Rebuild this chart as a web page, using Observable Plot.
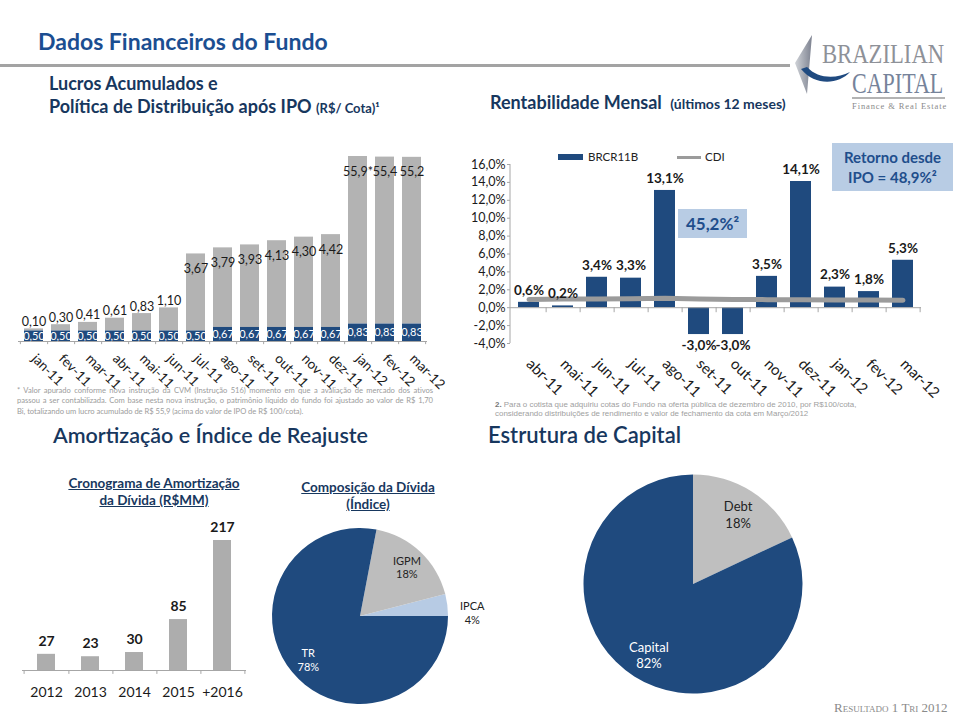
<!DOCTYPE html>
<html><head><meta charset="utf-8">
<script src="https://cdn.jsdelivr.net/npm/d3@7"></script>
<script src="https://cdn.jsdelivr.net/npm/@observablehq/plot@0.6"></script>
<style>
body{margin:0;background:#fff;font-family:Lato,sans-serif;}
#page{position:relative;width:960px;height:720px;overflow:hidden;background:#fff;}
.t{position:absolute;white-space:nowrap;line-height:1.2;}
.abs{position:absolute;}
.fn{position:absolute;font-size:7.6px;letter-spacing:-0.03px;line-height:10.5px;color:#9c9c9c;}
.fn .j{text-align:justify;text-align-last:justify;}
.ct{position:absolute;text-align:center;font-weight:700;text-decoration:underline;font-size:13.5px;line-height:17.5px;color:#17375e;}
</style></head>
<body><div id="page">
<div class="t" style="left:38px;top:28px;font-size:23px;font-weight:700;color:#1b4e91">Dados Financeiros do Fundo</div>
<div class="abs" style="left:0;top:64px;width:790px;height:3px;background:#a3a3a3"></div>
<div class="t" style="left:49px;top:71.5px;font-size:18px;line-height:23px;font-weight:700;color:#17375e">Lucros Acumulados e<br>Política de Distribuição após IPO <span style="font-size:13px">(R$/ Cota)¹</span></div>
<div class="t" style="left:490px;top:92px;font-size:18px;font-weight:700;color:#17375e">Rentabilidade Mensal <span style="font-size:14px;margin-left:4px">(últimos 12 meses)</span></div>

<svg class="abs" style="left:780px;top:28px" width="180" height="90" viewBox="780 28 180 90">
<defs><linearGradient id="sg" x1="0" x2="1"><stop offset="0" stop-color="#d0d3d8"/><stop offset="1" stop-color="#7d8290"/></linearGradient></defs>
<path d="M812,35 L795,63 L807,94 L809,70 Z" fill="url(#sg)"/>
<path d="M801,69 C815,86 838,85 850,72 C836,79 818,79 807,67 Z" fill="#1f4a80"/>
<text transform="translate(822,63) scale(0.81,1)" x="0" y="0" font-family="Liberation Serif" font-size="28" fill="#8e9198">BRAZILIAN</text>
<text transform="translate(852,93) scale(0.76,1)" x="0" y="0" font-family="Liberation Serif" font-size="29" fill="#76839a">CAPITAL</text>
<line x1="852" x2="945" y1="98" y2="98" stroke="#9a9a9a" stroke-width="1.5"/>
<text x="852" y="109" font-family="Liberation Serif" font-size="8.5" letter-spacing="0.9" fill="#8a8a8a">Finance &amp; Real Estate</text>
</svg>

<div id="c1" class="abs" style="left:0;top:150px"></div>
<div id="c2" class="abs" style="left:470px;top:140px"></div>

<div class="abs" style="left:558px;top:154px;width:25px;height:6px;background:#1f4a7e"></div>
<div class="t" style="left:588px;top:150px;font-size:11.5px;color:#222">BRCR11B</div>
<div class="abs" style="left:677px;top:156px;width:24px;height:2.5px;background:#9b9b9b"></div>
<div class="t" style="left:705px;top:150px;font-size:11.5px;color:#222">CDI</div>

<div class="abs" style="left:678px;top:209px;width:69px;height:29px;background:#b8cce4;color:#1f4e8c;font-weight:700;font-size:17px;line-height:29px;text-align:center">45,2%²</div>
<div class="abs" style="left:832px;top:143px;width:121px;height:48px;background:#b8cce4;color:#1f4e8c;font-weight:700;font-size:15px;line-height:20px;text-align:center;padding-top:4px;box-sizing:border-box">Retorno desde<br>IPO = 48,9%²</div>

<div class="fn" style="left:17px;top:384.5px;width:416px">
<div class="j">* Valor apurado conforme nova instrução da CVM (Instrução 516) momento em que a avaliação de mercado dos ativos</div>
<div class="j">passou a ser contabilizada. Com base nesta nova instrução, o patrimônio líquido do fundo foi ajustado ao valor de R$ 1,70</div>
<div>Bi, totalizando um lucro acumulado de R$ 55,9 (acima do valor de IPO de R$ 100/cota).</div>
</div>
<div class="t" style="left:495px;top:399.5px;font-family:'Liberation Sans',Arial,sans-serif;font-size:7.95px;line-height:9.4px;color:#a0a0a0"><b style="color:#777">2.</b> Para o cotista que adquiriu cotas do Fundo na oferta pública de dezembro de 2010, por R$100/cota,<br>considerando distribuições de rendimento e valor de fechamento da cota em Março/2012</div>

<div class="t" style="left:53px;top:422.5px;font-size:21.5px;font-weight:600;color:#17375e">Amortização e Índice de Reajuste</div>
<div class="t" style="left:488px;top:421.5px;font-size:22px;font-weight:600;color:#17375e">Estrutura de Capital</div>

<div class="ct" style="left:54px;top:474.5px;width:200px">Cronograma de Amortização<br>da Dívida (R$MM)</div>
<div class="ct" style="left:268px;top:478.5px;width:200px">Composição da Dívida<br>(Índice)</div>

<div id="c3" class="abs" style="left:0;top:515px"></div>
<div id="c4" class="abs" style="left:260px;top:520px"></div>
<div id="c5" class="abs" style="left:560px;top:470px"></div>

<div class="t" style="left:834px;top:700px;font-family:'Liberation Serif',serif;font-size:13px;font-variant:small-caps;color:#8a8a8a">Resultado 1 Tri 2012</div>
</div>
<script>
// ---------- data ----------
const meses = ["jan-11","fev-11","mar-11","abr-11","mai-11","jun-11","jul-11","ago-11","set-11","out-11","nov-11","dez-11","jan-12","fev-12","mar-12"];
const distribuicao = [0.50,0.50,0.50,0.50,0.50,0.50,0.50,0.67,0.67,0.67,0.67,0.67,0.83,0.83,0.83];
const lucroAcumulado = [0.10,0.30,0.41,0.61,0.83,1.10,3.67,3.79,3.93,4.13,4.30,4.42,55.9,55.4,55.2];
const lucroNota = ["","","","","","","","","","","","","*","",""];

const mesesRent = ["abr-11","mai-11","jun-11","jul-11","ago-11","set-11","out-11","nov-11","dez-11","jan-12","fev-12","mar-12"];
const brcr11b = [0.6,0.2,3.4,3.3,13.1,-3.0,-3.0,3.5,14.1,2.3,1.8,5.3];
const cdi = [0.92,0.97,0.98,1.00,1.05,0.98,0.93,0.90,0.88,0.87,0.85,0.84];
const rentTicks = [-4,-2,0,2,4,6,8,10,12,14,16];

const anos = ["2012","2013","2014","2015","+2016"];
const amortizacao = [27,23,30,85,217];

const indices = ["IPCA","IGPM","TR"];
const indicesPct = [4,18,78];

const estrutura = ["Debt","Capital"];
const estruturaPct = [18,82];

// ---------- helpers ----------
const loc = d3.formatLocale({decimal: ",", thousands: ".", grouping: [3], currency: ["R$", ""], minus: "-"});
const f1 = loc.format(".1f"), f2 = loc.format(".2f");
const azul = "#1f4a7e", cinza = "#b3b3b3", eixo = "#a6a6a6";
const baseStyle = {fontFamily: "Lato, sans-serif", fontSize: "14px", color: "#1a1a1a", background: "transparent", overflow: "visible"};

// ---------- chart 1: lucros acumulados (broken value axis above 6) ----------
const quebra = 6, fatorQuebra = 0.0554;
const brk = v => v <= quebra ? v : quebra + (v - quebra) * fatorQuebra;
const rows1 = meses.map((mes, i) => ({mes, dist: distribuicao[i], lucro: lucroAcumulado[i], total: distribuicao[i] + lucroAcumulado[i], nota: lucroNota[i]}));
const fmtLucro = d => (d.lucro >= 10 ? f1(d.lucro) : f2(d.lucro)) + d.nota;
const step1 = (470 - 18 - 43) / meses.length;
const c1 = Plot.plot({
  width: 470, height: 240, marginLeft: 18, marginRight: 43, marginTop: 0, marginBottom: 49,
  style: baseStyle,
  x: {domain: meses, paddingInner: 0.3, paddingOuter: 0.15, label: null},
  y: {domain: [0, brk(57)], range: [191, 5.7], axis: null},
  marks: [
    Plot.barY(rows1, {x: "mes", y1: d => brk(d.dist), y2: d => brk(d.total), fill: cinza}),
    Plot.barY(rows1, {x: "mes", y1: 0, y2: d => brk(d.dist), fill: azul}),
    Plot.ruleY([0], {stroke: eixo}),
    Plot.ruleX(meses, {x: d => d, y1: 0, y2: -0.15, dx: step1 / 2, stroke: eixo}),
    Plot.ruleX(meses.slice(0, 1), {x: d => d, y1: 0, y2: -0.15, dx: -step1 / 2, stroke: eixo}),
    Plot.text(rows1, {x: "mes", y: d => brk(d.dist) / 2, text: d => f2(d.dist), fill: "white", fontSize: 11}),
    Plot.text(rows1.filter(d => d.lucro < 2), {x: "mes", y: d => brk(d.total), dy: -7, text: fmtLucro, fontSize: 12.5}),
    Plot.text(rows1.filter(d => d.lucro >= 2), {x: "mes", y: d => brk(d.total), dy: 15, text: fmtLucro, fontSize: 12.5}),
    Plot.axisX({tickSize: 0, tickRotate: 45, tickPadding: 15, fontSize: 13.5, label: null})
  ]
});
document.getElementById("c1").append(c1);

// ---------- chart 2: rentabilidade mensal ----------
const rows2 = mesesRent.map((mes, i) => ({mes, ret: brcr11b[i], cdi: cdi[i]}));
const step2 = (490 - 40 - 39) / mesesRent.length;
const yAxisLine = (index, scales, values, dims) =>
  d3.create("svg:line")
    .attr("x1", dims.marginLeft).attr("x2", dims.marginLeft)
    .attr("y1", dims.marginTop).attr("y2", dims.height - dims.marginBottom)
    .attr("stroke", eixo).node();
const c2 = Plot.plot({
  width: 490, height: 250, marginLeft: 40, marginRight: 39, marginTop: 24, marginBottom: 47,
  style: baseStyle,
  x: {domain: mesesRent, paddingInner: 0.37, paddingOuter: 0.185, label: null},
  y: {domain: [-4, 16], label: null},
  marks: [
    Plot.barY(rows2, {x: "mes", y: "ret", fill: azul}),
    Plot.ruleY([0], {stroke: eixo}),
    Plot.ruleX(mesesRent, {x: d => d, y1: 0, y2: -0.56, dx: step2 / 2, stroke: eixo}),
    Plot.line(rows2, {x: "mes", y: "cdi", stroke: "#9b9b9b", strokeWidth: 5}),
    Plot.text(rows2.filter(d => d.ret >= 0), {x: "mes", y: "ret", dy: -12, text: d => f1(d.ret) + "%", fontWeight: "bold", fontSize: 13.5}),
    Plot.text(rows2.filter(d => d.ret < 0), {x: "mes", y: "ret", dy: 11, text: d => f1(d.ret) + "%", fontWeight: "bold", fontSize: 13.5}),
    Plot.axisY({ticks: rentTicks, tickFormat: d => f1(d) + "%", tickSize: 3, tickPadding: 2, fontSize: 12.5, label: null, stroke: eixo}),
    yAxisLine,
    Plot.axisX({tickSize: 0, tickRotate: 45, tickPadding: 18, fontSize: 15, label: null})
  ]
});
document.getElementById("c2").append(c2);

// ---------- chart 3: amortização ----------
const rows3 = anos.map((ano, i) => ({ano, v: amortizacao[i]}));
const step3 = (260 - 22 - 14) / anos.length;
const c3 = Plot.plot({
  width: 260, height: 195, marginLeft: 22, marginRight: 14, marginTop: 0, marginBottom: 40,
  style: baseStyle,
  x: {domain: anos, paddingInner: 0.6, paddingOuter: 0.3, label: null},
  y: {domain: [0, 217], range: [155, 25], axis: null},
  marks: [
    Plot.barY(rows3, {x: "ano", y: "v", fill: "#adadad"}),
    Plot.ruleY([0], {stroke: eixo}),
    Plot.ruleX(anos, {x: d => d, y1: 0, y2: -6.5, dx: step3 / 2, stroke: eixo}),
    Plot.ruleX(anos.slice(0, 1), {x: d => d, y1: 0, y2: -6.5, dx: -step3 / 2, stroke: eixo}),
    Plot.text(rows3, {x: "ano", y: "v", dy: -13, text: d => String(d.v), fontWeight: "bold", fontSize: 14}),
    Plot.axisX({tickSize: 0, tickPadding: 17, fontSize: 14, label: null})
  ]
});
document.getElementById("c3").append(c3);

// ---------- pies ----------
function piePlot({names, pcts, width, height, cx, cy, r, colors, startAngle, endAngle, labelR, fontSize}) {
  const arcs = d3.pie().sort(null).value(d => d.pct).startAngle(startAngle).endAngle(endAngle)(names.map((nome, i) => ({nome, pct: pcts[i]})));
  const arcPath = d3.arc().innerRadius(0).outerRadius(r);
  const inner = d3.arc().innerRadius(r * labelR).outerRadius(r * labelR);
  const outer = d3.arc().innerRadius(r * 1.28).outerRadius(r * 1.28);
  const slices = () => {
    const g = d3.create("svg:g").attr("transform", `translate(${cx},${cy})`);
    g.selectAll("path").data(arcs).join("path").attr("d", arcPath).attr("fill", d => colors[d.data.nome]);
    return g.node();
  };
  const lbl = a => a.data.nome + "\n" + a.data.pct + "%";
  const txtColor = a => colors[a.data.nome] === azul ? "white" : "#222";
  const big = arcs.filter(a => a.data.pct >= 10), small = arcs.filter(a => a.data.pct < 10);
  return Plot.plot({
    width, height, margin: 0, style: baseStyle,
    x: {type: "identity", axis: null}, y: {type: "identity", axis: null},
    marks: [
      slices,
      Plot.text(big, {x: a => cx + inner.centroid(a)[0], y: a => cy + inner.centroid(a)[1], text: lbl, fill: txtColor, fontSize, lineHeight: 1.25}),
      Plot.text(small, {x: a => cx + outer.centroid(a)[0], y: a => cy + outer.centroid(a)[1], dy: 10, text: lbl, fill: "#222", fontSize, lineHeight: 1.25})
    ]
  });
}
document.getElementById("c4").append(piePlot({
  names: indices, pcts: indicesPct, width: 260, height: 195, cx: 100, cy: 96, r: 88,
  colors: {TR: azul, IGPM: "#bdbdbd", IPCA: "#b7cbe4"},
  startAngle: Math.PI / 2, endAngle: Math.PI / 2 - 2 * Math.PI, labelR: 0.77, fontSize: 11
}));
document.getElementById("c5").append(piePlot({
  names: estrutura, pcts: estruturaPct, width: 300, height: 240, cx: 133, cy: 114, r: 109.5,
  colors: {Debt: "#bfbfbf", Capital: azul},
  startAngle: 0, endAngle: 2 * Math.PI, labelR: 0.76, fontSize: 13
}));
</script>
</body></html>
